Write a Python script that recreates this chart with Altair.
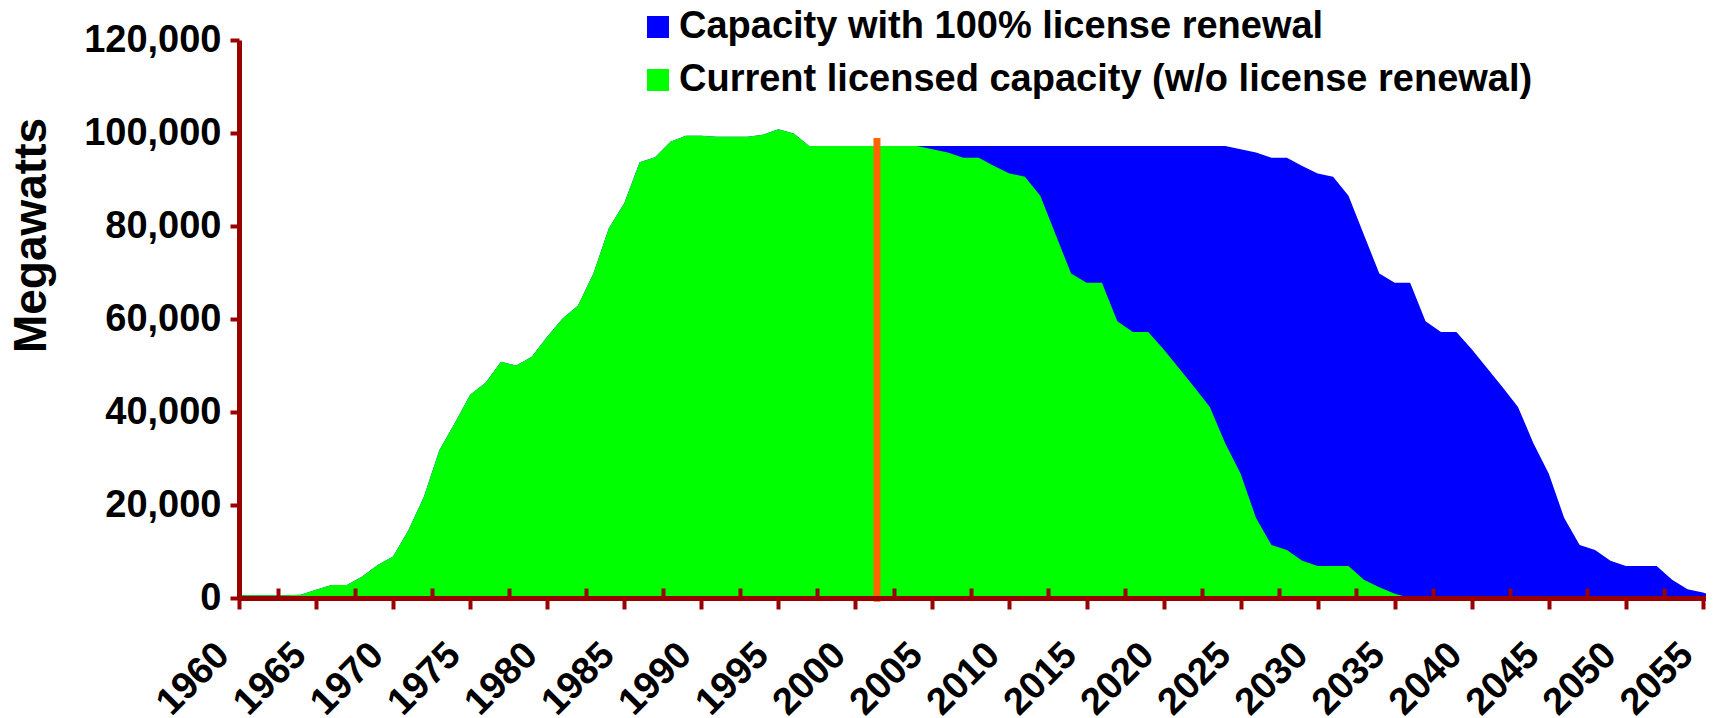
import altair as alt
import pandas as pd

# ---- data ----
years = list(range(1960, 2057))

current_licensed = [
    600, 600, 600, 600, 700, 1800, 2800, 2800, 4600, 7100,            # 1960-1969
    8900, 14600, 21800, 31800, 37600, 43700, 46300, 50800, 50000, 51900,  # 1970-1979
    56200, 60100, 62900, 69800, 79500, 84900, 93700, 94800, 98100, 99400,  # 1980-1989
    99400, 99200, 99200, 99200, 99600, 100800, 99900, 97200, 97200, 97200,  # 1990-1999
    97200, 97200, 97200, 97200, 97200, 96500, 95800, 94700, 94700, 92900,  # 2000-2009
    91300, 90600, 86500, 78100, 69800, 67800, 67800, 59500, 57200, 57200,  # 2010-2019
    53500, 49400, 45300, 41100, 33300, 26700, 17200, 11400, 10300, 8000,   # 2020-2029
    6900, 6900, 6900, 3900, 2300, 900, 0, 0, 0, 0,                        # 2030-2039
    0, 0, 0, 0, 0, 0, 0, 0, 0, 0,                                         # 2040-2049
    0, 0, 0, 0, 0, 0, 0,                                                  # 2050-2056
]

with_renewal = [
    600, 600, 600, 600, 700, 1800, 2800, 2800, 4600, 7100,            # 1960-1969
    8900, 14600, 21800, 31800, 37600, 43700, 46300, 50800, 50000, 51900,  # 1970-1979
    56200, 60100, 62900, 69800, 79500, 84900, 93700, 94800, 98100, 99400,  # 1980-1989
    99400, 99200, 99200, 99200, 99600, 100800, 99900, 97200, 97200, 97200,  # 1990-1999
    97200, 97200, 97200, 97200, 97200, 97200, 97200, 97200, 97200, 97200,  # 2000-2009
    97200, 97200, 97200, 97200, 97200, 97200, 97200, 97200, 97200, 97200,  # 2010-2019
    97200, 97200, 97200, 97200, 97200, 96500, 95800, 94700, 94700, 92900,  # 2020-2029
    91300, 90600, 86500, 78100, 69800, 67800, 67800, 59500, 57200, 57200,  # 2030-2039
    53500, 49400, 45300, 41100, 33300, 26700, 17200, 11400, 10300, 8000,   # 2040-2049
    6900, 6900, 6900, 3900, 1900, 1200, 0,                                 # 2050-2056
]

series_names = ["Capacity with 100% license renewal",
                "Current licensed capacity (w/o license renewal)"]
series_colors = ["#0000FF", "#00FF00"]

label_years = [1960, 1965, 1970, 1975, 1980, 1985, 1990, 1995, 2000, 2005,
               2010, 2015, 2020, 2025, 2030, 2035, 2040, 2045, 2050, 2055]
minor_tick_years = [1962.5, 1967.5, 1972.5, 1977.5, 1982.5, 1987.5, 1992.5,
                    1997.5, 2002.5, 2007.5, 2012.5, 2017.5, 2022.5, 2027.5,
                    2032.5, 2037.5, 2042.5, 2047.5, 2052.5]
y_ticks = [0, 20000, 40000, 60000, 80000, 100000, 120000]

marker_year = 2001.4
marker_low = -800
marker_high = 98900

# ---- tables ----
df_blue = pd.DataFrame({"year": years, "mw": with_renewal, "series": series_names[0]})
df_green = pd.DataFrame({"year": years, "mw": current_licensed, "series": series_names[1]})
df_marker = pd.DataFrame({"year": [marker_year], "mw": [marker_low], "mw2": [marker_high]})

FONT = "Liberation Sans"
AXIS_RED = "#990000"
PLOT_W = 1467
PLOT_H = 558

x_scale = alt.Scale(domain=[1960, 2055.2], nice=False, zero=False)
y_scale = alt.Scale(domain=[0, 120000], nice=False)
color_scale = alt.Scale(domain=series_names, range=series_colors)

x_axis_main = alt.Axis(
    values=label_years, format="d", title=None, grid=False,
    domainColor=AXIS_RED, domainWidth=5, tickColor=AXIS_RED, tickWidth=4,
    tickSize=11, labelAngle=-45, labelAlign="right", labelBaseline="middle",
    labelFont=FONT, labelFontWeight="bold", labelFontSize=38, labelColor="black",
    labelPadding=40, labelOffset=-16, labelOverlap=False, labelFlush=False,
    labelBound=False, zindex=1,
)

x_axis_minor = alt.Axis(
    orient="top", offset=-PLOT_H, values=minor_tick_years, labels=False,
    domain=False, title=None, grid=False, tickColor=AXIS_RED, tickWidth=4,
    tickSize=10, zindex=1,
)

y_axis = alt.Axis(
    values=y_ticks, format=",d", title="Megawatts", grid=False,
    domainColor=AXIS_RED, domainWidth=5, tickColor=AXIS_RED, tickWidth=4,
    tickSize=9, labelFont=FONT, labelFontWeight="bold", labelFontSize=38,
    labelColor="black", labelPadding=9,
    titleFont=FONT, titleFontWeight="bold", titleFontSize=46, titleColor="black",
    titleAngle=-90, titleX=-208, titleY=195, titleAlign="center",
    titleBaseline="middle", zindex=1,
)

legend = alt.Legend(
    title=None, orient="none", legendX=400, legendY=-32, direction="vertical",
    symbolType="square", symbolSize=484, symbolStrokeWidth=0, symbolOpacity=1,
    labelFont=FONT, labelFontWeight="bold", labelFontSize=38, labelColor="black",
    labelLimit=2000, labelOffset=2, rowPadding=15, padding=0,
)

blue_area = alt.Chart(df_blue).mark_area(clip=True, opacity=1).encode(
    x=alt.X("year:Q", scale=x_scale, axis=x_axis_main),
    y=alt.Y("mw:Q", scale=y_scale, axis=y_axis, stack=None),
    color=alt.Color("series:N", scale=color_scale, legend=legend),
)

green_area = alt.Chart(df_green).mark_area(clip=True, opacity=1).encode(
    x=alt.X("year:Q", scale=x_scale, axis=None),
    y=alt.Y("mw:Q", scale=y_scale, stack=None),
    color=alt.Color("series:N", scale=color_scale, legend=legend),
)

marker = alt.Chart(df_marker).mark_rule(color="#FF6600", strokeWidth=7).encode(
    x=alt.X("year:Q", scale=x_scale, axis=x_axis_minor),
    y=alt.Y("mw:Q", scale=y_scale),
    y2="mw2:Q",
)

chart = (
    alt.layer(blue_area, green_area, marker)
    .resolve_axis(x="independent")
    .properties(
        width=PLOT_W, height=PLOT_H,
        autosize=alt.AutoSizeParams(type="none"),
        padding={"left": 231, "top": 32, "right": 0, "bottom": 118},
        background="white",
    )
    .configure_view(stroke=None)
)

chart.save("out.html", embed_options={"renderer": "svg", "actions": False})
